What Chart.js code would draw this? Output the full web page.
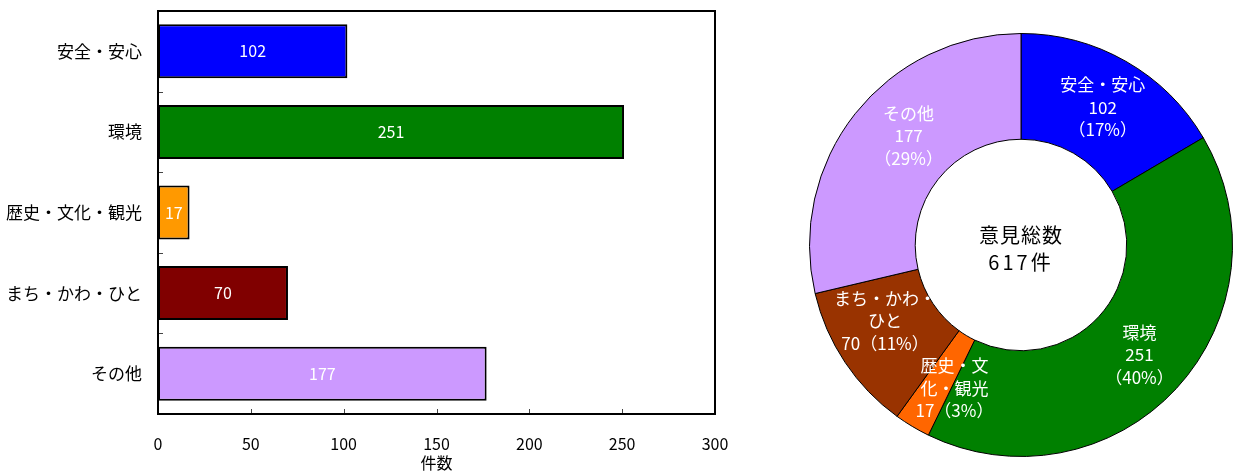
<!DOCTYPE html>
<html>
<head>
<meta charset="utf-8">
<script src="https://cdn.jsdelivr.net/npm/chart.js@4/dist/chart.umd.min.js"></script>
<style>
  html, body { margin: 0; padding: 0; background: #fff; }
  #wrap { position: relative; width: 1238px; height: 475px; overflow: hidden; }
  #bar { position: absolute; left: 0; top: 0; }
  #ring { position: absolute; left: 809px; top: 33px; }
</style>
</head>
<body>
<div id="wrap">
  <canvas id="bar" width="760" height="475"></canvas>
  <canvas id="ring" width="424" height="424"></canvas>
</div>
<script>
// ---- data ----
const categories = ['安全・安心', '環境', '歴史・文化・観光', 'まち・かわ・ひと', 'その他'];
const counts = [102, 251, 17, 70, 177];
const percentLabels = [17, 40, 3, 11, 29];
const xTicks = [0, 50, 100, 150, 200, 250, 300];
const ringNameLines = [['安全・安心'], ['環境'], ['歴史・文', '化・観光'], ['まち・かわ・', 'ひと'], ['その他']];
const axisTitle = '件数';
const centerTitle = '意見総数';

// ---- styles ----
const FONT = "'Noto Sans CJK JP', 'Noto Sans', sans-serif";
const barColors = ['#0000FF', '#008000', '#FF9900', '#800000', '#CC99FF'];
const ringColors = ['#0000FF', '#008000', '#FF6600', '#993300', '#CC99FF'];
const compactValueLine = [false, false, true, true, false];
const ringLabelShift = [[3, 0], [2, 2], [15, 7], [-4, -12], [12, -11]];

const total = counts.reduce((a, b) => a + b, 0);

// frame, inward tick marks, value labels and axis title for the bar chart
const barDecor = {
  id: 'barDecor',
  afterDatasetsDraw(chart) {
    const ctx = chart.ctx;
    const a = chart.chartArea;
    const xs = chart.scales.x, ys = chart.scales.y;
    ctx.save();
    // values inside bars
    ctx.fillStyle = '#fff';
    ctx.font = '16px ' + FONT;
    ctx.textAlign = 'center';
    ctx.textBaseline = 'middle';
    chart.getDatasetMeta(0).data.forEach((el, i) => {
      ctx.fillText(String(counts[i]), (el.x + el.base) / 2, el.y);
    });
    // inward tick marks
    ctx.strokeStyle = '#444';
    ctx.lineWidth = 1;
    ctx.beginPath();
    for (let i = 0; i < categories.length - 1; i++) {
      const y = Math.round((ys.getPixelForTick(i) + ys.getPixelForTick(i + 1)) / 2) + 0.5;
      ctx.moveTo(a.left, y); ctx.lineTo(a.left + 5, y);
    }
    xTicks.slice(1, -1).forEach(v => {
      const x = Math.round(xs.getPixelForValue(v)) + 0.5;
      ctx.moveTo(x, a.bottom); ctx.lineTo(x, a.bottom - 5);
    });
    ctx.stroke();
    // plot frame
    ctx.strokeStyle = '#000';
    ctx.lineWidth = 2;
    ctx.strokeRect(a.left, a.top, a.right - a.left, a.bottom - a.top);
    // axis title
    ctx.fillStyle = '#000';
    ctx.font = '16px ' + FONT;
    ctx.textBaseline = 'middle';
    ctx.fillText(axisTitle, (a.left + a.right) / 2, 463);
    ctx.restore();
  }
};

new Chart(document.getElementById('bar'), {
  type: 'bar',
  data: {
    labels: categories,
    datasets: [{
      data: counts,
      backgroundColor: barColors,
      borderColor: '#000',
      borderWidth: 2,
      borderSkipped: false,
      categoryPercentage: 1,
      barPercentage: 0.67
    }]
  },
  options: {
    indexAxis: 'y',
    responsive: false,
    animation: false,
    layout: { padding: { left: 0, top: 11, right: 45, bottom: 0 } },
    plugins: { legend: { display: false }, tooltip: { enabled: false } },
    scales: {
      x: {
        min: 0, max: 300,
        afterBuildTicks(scale) { scale.ticks = xTicks.map(v => ({ value: v })); },
        afterFit(scale) {
          scale.height = 61;
          scale.paddingLeft = 0; scale.paddingRight = 0;
        },
        grid: { display: false, drawTicks: false },
        border: { display: false },
        ticks: { color: '#000', font: { family: FONT, size: 16 }, padding: 20, maxRotation: 0 }
      },
      y: {
        afterFit(scale) {
          scale.width = 158;
          scale.paddingTop = 0; scale.paddingBottom = 0;
        },
        grid: { display: false, drawTicks: false },
        border: { display: false },
        ticks: { color: '#000', font: { family: FONT, size: 17 }, padding: 16 }
      }
    }
  },
  plugins: [barDecor]
});

// slice labels and centre caption for the ring chart
const ringDecor = {
  id: 'ringDecor',
  afterDatasetsDraw(chart) {
    const ctx = chart.ctx;
    ctx.save();
    ctx.textAlign = 'center';
    ctx.textBaseline = 'middle';
    ctx.fillStyle = '#fff';
    ctx.font = '17px ' + FONT;
    const lh = 22.5;
    let cx = 0, cy = 0;
    chart.getDatasetMeta(0).data.forEach((el, i) => {
      const p = el.getProps(['x', 'y', 'startAngle', 'endAngle', 'innerRadius', 'outerRadius'], true);
      cx = p.x; cy = p.y;
      const mid = (p.startAngle + p.endAngle) / 2;
      const r = (p.innerRadius + p.outerRadius) / 2;
      const px = p.x + Math.cos(mid) * r + ringLabelShift[i][0];
      const py = p.y + Math.sin(mid) * r + ringLabelShift[i][1];
      const lines = ringNameLines[i].slice();
      if (compactValueLine[i]) {
        lines.push(counts[i] + '（' + percentLabels[i] + '%）');
      } else {
        lines.push(String(counts[i]));
        lines.push('（' + percentLabels[i] + '%）');
      }
      const y0 = py - (lines.length - 1) * lh / 2;
      lines.forEach((t, k) => ctx.fillText(t, px, y0 + k * lh));
    });
    ctx.fillStyle = '#000';
    ctx.font = '20px ' + FONT;
    ctx.letterSpacing = '1px';
    ctx.fillText(centerTitle, cx, cy - 10);
    ctx.letterSpacing = '3px';
    ctx.fillText(total + '件', cx, cy + 17);
    ctx.restore();
  }
};

new Chart(document.getElementById('ring'), {
  type: 'doughnut',
  data: {
    labels: categories,
    datasets: [{
      data: counts,
      backgroundColor: ringColors,
      borderColor: '#000',
      borderWidth: 1,
      hoverOffset: 0
    }]
  },
  options: {
    responsive: false,
    animation: false,
    cutout: '50%',
    layout: { padding: 0 },
    plugins: { legend: { display: false }, tooltip: { enabled: false } }
  },
  plugins: [ringDecor]
});
</script>
</body>
</html>
